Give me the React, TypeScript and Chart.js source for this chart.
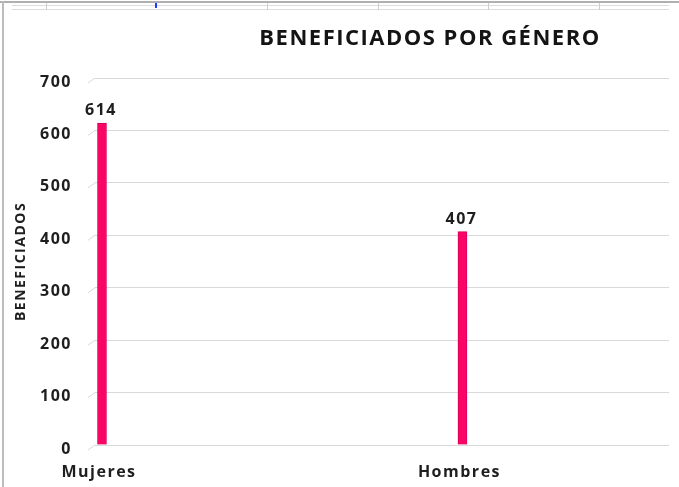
import React, { useEffect, useRef } from 'react';
import { Chart, registerables } from 'chart.js';

Chart.register(...registerables);

const categories = ['Mujeres', 'Hombres'];
const values = [614, 407];
const yTickValues = [0, 100, 200, 300, 400, 500, 600, 700];
const chartTitle = 'BENEFICIADOS POR GÉNERO';
const yAxisTitle = 'BENEFICIADOS';

const FONT = "'Open Sans', 'Liberation Sans', sans-serif";
const TEXT = '#1e1e1e';
const BAR = '#fa0566';

const extrasPlugin = {
  id: 'extras',
  beforeDraw(chart: any) {
    (chart.ctx as any).letterSpacing = '1.5px';
  },
  afterDraw(chart: any) {
    const { ctx, chartArea, scales } = chart;
    const y = scales.y;
    ctx.save();
    ctx.letterSpacing = '1.5px';
    // small diagonal stubs at the left of gridlines
    ctx.strokeStyle = '#d9d9d9';
    ctx.lineWidth = 1;
    yTickValues.forEach((v) => {
      const py = y.getPixelForValue(v);
      ctx.beginPath();
      ctx.moveTo(chartArea.left - 7, py + 5);
      ctx.lineTo(chartArea.left, py);
      ctx.stroke();
    });
    // data labels
    ctx.fillStyle = TEXT;
    ctx.font = `bold 16px ${FONT}`;
    ctx.textAlign = 'center';
    ctx.textBaseline = 'alphabetic';
    const meta = chart.getDatasetMeta(0);
    meta.data.forEach((el: any, i: number) => {
      ctx.fillText(String(values[i]), el.x - 1, el.y - 8);
    });
    // title
    ctx.font = `bold 22px ${FONT}`;
    ctx.fillStyle = '#141414';
    ctx.fillText(chartTitle, 430, 45);
    ctx.restore();
  },
};

export default function App() {
  const ref = useRef<HTMLCanvasElement>(null);

  useEffect(() => {
    if (!ref.current) return;
    const chart = new Chart(ref.current, {
      type: 'bar',
      data: {
        datasets: [
          {
            data: categories.map((c, i) => ({ x: i, y: values[i] })),
            backgroundColor: BAR,
            borderColor: '#d40058',
            borderWidth: 1,
            barThickness: 9,
          },
        ],
      },
      options: {
        animation: false,
        responsive: false,
        maintainAspectRatio: false,
        layout: { padding: { left: 0, top: 78, right: 10, bottom: 0 } },
        plugins: {
          legend: { display: false },
          tooltip: { enabled: false },
          title: { display: false },
        },
        scales: {
          x: {
            type: 'linear',
            min: -0.0194,
            max: 1.573,
            offset: false,
            grid: { display: false, drawTicks: false },
            border: { display: false },
            afterBuildTicks: (scale: any) => {
              scale.ticks = categories.map((_, i) => ({ value: i }));
            },
            afterFit: (scale: any) => {
              scale.height = 42;
            },
            ticks: {
              autoSkip: false,
              maxRotation: 0,
              padding: 18,
              labelOffset: -3,
              color: TEXT,
              font: { family: FONT, size: 16, weight: 'bold' },
              callback: (v: any) => categories[v] ?? '',
            },
          },
          y: {
            min: 0,
            max: 700,
            afterBuildTicks: (scale: any) => {
              scale.ticks = yTickValues.map((v) => ({ value: v }));
            },
            afterFit: (scale: any) => {
              scale.width = 95;
            },
            grid: { color: '#d9d9d9', drawTicks: false, lineWidth: 1 },
            border: { display: false },
            ticks: {
              padding: 23,
              labelOffset: 4,
              color: TEXT,
              font: { family: FONT, size: 16, weight: 'bold' },
            },
            title: {
              display: true,
              text: yAxisTitle,
              color: TEXT,
              font: { family: FONT, size: 14, weight: 'bold' },
              padding: { top: 13, bottom: 0 },
            },
          },
        },
      },
      plugins: [extrasPlugin],
    } as any);
    return () => chart.destroy();
  }, []);

  const seps = [46, 267, 378, 488, 599];

  return (
    <div style={{ position: 'fixed', left: 0, top: 0, width: 679, height: 487, background: '#fff', overflow: 'hidden' }}>
      <canvas ref={ref} width={679} height={487} style={{ position: 'absolute', left: 0, top: 0, width: 679, height: 487 }} />
      <div style={{ position: 'absolute', left: 0, top: 1, width: 679, height: 2, background: '#b0b0b0' }} />
      <div style={{ position: 'absolute', left: 2, top: 1, width: 2, height: 486, background: '#bdbdbd' }} />
      <div style={{ position: 'absolute', left: 12, top: 5, width: 657, height: 1, background: '#dcdcdc' }} />
      <div style={{ position: 'absolute', left: 12, top: 9, width: 657, height: 1, background: '#dcdcdc' }} />
      {seps.map((x) => (
        <div key={x} style={{ position: 'absolute', left: x, top: 3, width: 1, height: 7, background: '#cfcfcf' }} />
      ))}
      <div style={{ position: 'absolute', left: 155, top: 3, width: 2, height: 5, background: '#1a3cff' }} />
    </div>
  );
}
